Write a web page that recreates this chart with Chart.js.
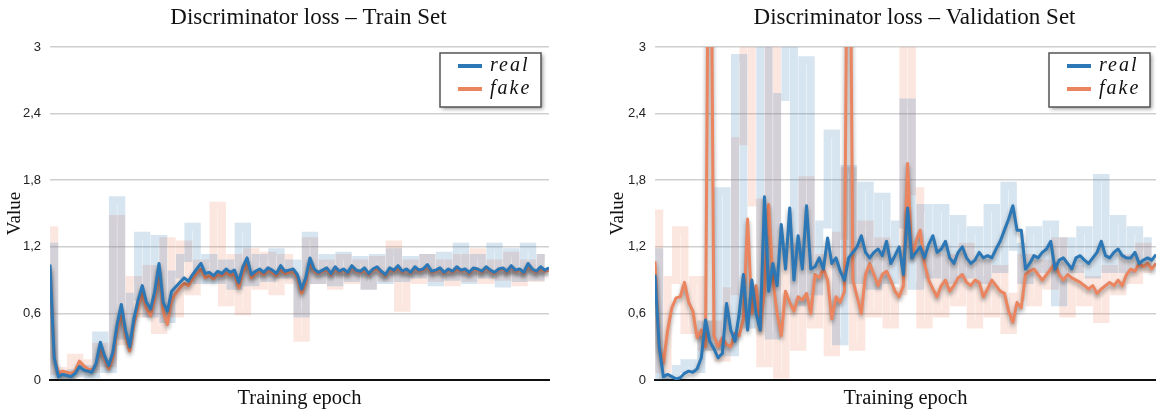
<!DOCTYPE html>
<html>
<head>
<meta charset="utf-8">
<script src="https://cdn.jsdelivr.net/npm/chart.js@4.4.1/dist/chart.umd.min.js"></script>
<style>
  html, body { margin: 0; padding: 0; background: #fff; }
  body { width: 1156px; height: 412px; position: relative; overflow: hidden; }
  canvas { position: absolute; top: 0; }
  #trainChart { left: 0; }
  #valChart { left: 578px; }
</style>
</head>
<body>
<canvas id="trainChart" width="578" height="412"></canvas>
<canvas id="valChart" width="578" height="412"></canvas>
<script>
// --- dados ---
const yTicks = [0, 0.6, 1.2, 1.8, 2.4, 3];
const seriesNames = ['real', 'fake'];

// Train set, curvas suavizadas (120 pontos)
const trainReal = [1.04,0.2,0.03,0.05,0.04,0.03,0.06,0.12,0.09,0.08,0.07,0.15,0.34,0.22,0.13,0.25,0.5,0.68,0.45,0.3,
  0.55,0.72,0.85,0.7,0.64,0.8,1.05,0.7,0.62,0.8,0.84,0.88,0.92,0.89,0.95,1.0,1.05,0.96,0.97,0.94,
  0.98,0.96,1.0,0.97,0.99,0.88,1.02,1.1,0.95,0.98,1.0,0.97,1.01,0.99,0.96,1.03,0.98,0.99,1.0,0.95,
  0.82,0.92,1.1,1.0,0.97,0.99,1.01,0.96,1.02,0.98,1.0,0.97,1.03,0.99,0.98,1.01,0.96,1.0,1.02,0.98,
  0.95,1.01,0.99,1.03,0.98,1.0,0.97,1.02,0.99,1.0,1.04,0.98,0.99,1.01,0.97,1.0,0.98,1.02,0.99,1.0,
  0.97,1.01,1.0,0.98,1.02,0.99,0.97,1.0,1.01,0.98,1.03,0.99,1.0,0.97,1.05,1.0,0.98,1.02,0.99,1.01];
const trainFake = [1.0,0.2,0.06,0.08,0.07,0.06,0.08,0.17,0.13,0.1,0.09,0.14,0.3,0.19,0.1,0.2,0.45,0.62,0.4,0.26,
  0.5,0.66,0.78,0.64,0.58,0.74,1.0,0.62,0.5,0.72,0.78,0.83,0.87,0.85,0.91,0.96,1.0,0.92,0.94,0.91,
  0.95,0.94,0.97,0.94,0.96,0.83,0.97,1.06,0.92,0.96,0.98,0.95,0.99,0.97,0.94,1.0,0.96,0.97,0.98,0.92,
  0.78,0.88,1.07,0.98,0.96,0.98,0.99,0.95,1.0,0.97,0.99,0.96,1.01,0.98,0.97,0.99,0.95,0.99,1.0,0.97,
  0.94,0.99,0.98,1.01,0.97,0.99,0.96,1.01,0.98,0.99,1.02,0.97,0.98,1.0,0.96,0.99,0.97,1.0,0.98,0.99,
  0.96,1.0,0.99,0.97,1.01,0.98,0.96,0.99,1.0,0.97,1.02,0.98,0.99,0.96,1.03,0.99,0.97,1.0,0.98,0.99];
// Train set, valores brutos (60 pontos, 1 a cada 2 épocas)
const trainRealRaw = [1.2,0.05,0.02,0.06,0.1,0.05,0.4,0.1,1.62,0.4,0.75,1.3,0.6,1.27,0.55,0.95,1.1,1.38,0.9,1.1,
  0.9,1.05,0.85,1.38,0.88,1.1,0.92,1.15,0.95,1.05,0.6,1.3,0.9,1.1,0.88,1.12,0.92,1.08,0.85,1.1,
  0.9,1.15,0.92,1.08,0.95,1.1,0.88,1.12,0.93,1.2,0.9,1.1,0.95,1.2,0.87,1.15,0.92,1.2,0.93,1.1];
const trainFakeRaw = [1.35,0.08,0.05,0.2,0.15,0.1,0.3,0.15,1.45,0.35,0.9,0.6,1.0,0.45,1.25,0.6,1.22,0.8,1.05,1.0,
  1.57,0.7,1.1,0.62,1.15,0.85,1.12,0.8,1.1,0.9,0.38,1.25,0.9,1.05,0.85,1.1,0.9,1.05,0.85,1.08,
  0.92,1.22,0.65,1.05,0.9,1.1,0.92,1.05,0.88,1.1,0.92,1.15,0.9,1.05,0.93,1.12,0.88,1.05,0.92,1.1];

// Validation set, curvas suavizadas (120 pontos); os picos acima de 3 saem cortados no gráfico
const valReal = [0.95,0.3,0.03,0.05,0.03,0.01,0.02,0.06,0.08,0.07,0.1,0.2,0.54,0.35,0.28,0.2,0.24,0.69,0.45,0.35,
  0.6,0.95,0.45,0.9,0.6,0.45,1.65,0.8,1.05,0.85,1.4,1.0,1.55,0.9,1.3,1.0,1.57,1.0,1.02,1.1,
  1.0,1.28,1.05,1.1,0.98,0.9,1.1,1.15,1.2,1.3,1.15,1.1,1.15,1.18,1.12,1.25,1.05,1.12,1.2,0.95,
  1.55,1.1,1.15,1.2,1.1,1.22,1.3,1.15,1.18,1.25,1.1,1.05,1.15,1.2,1.1,1.05,1.08,1.15,1.1,1.12,
  1.1,1.18,1.25,1.35,1.45,1.57,1.35,1.35,1.0,1.05,1.12,1.1,1.15,1.18,1.25,1.0,1.08,1.1,1.05,1.0,
  1.1,1.12,1.08,1.05,1.1,1.15,1.25,1.12,1.1,1.15,1.18,1.12,1.1,1.1,1.15,1.05,1.08,1.1,1.08,1.13];
const valFake = [1.07,0.3,0.15,0.45,0.65,0.74,0.75,0.88,0.7,0.62,0.38,0.45,0.3,6.0,0.4,0.3,0.38,0.32,0.3,0.42,
  0.4,0.55,1.45,0.6,0.85,0.45,0.8,1.58,0.9,0.6,0.4,0.8,0.7,0.62,0.75,0.72,0.78,0.6,0.95,0.92,
  1.0,0.9,0.55,0.75,0.7,0.8,6.0,0.9,0.75,0.6,0.95,1.05,0.95,0.85,0.95,0.98,0.9,0.8,0.75,0.85,
  1.95,1.1,1.25,1.35,1.05,0.9,0.82,0.75,0.85,0.9,0.8,0.85,0.92,0.95,0.88,0.85,0.9,0.88,0.75,0.82,
  0.9,0.85,0.8,0.78,0.62,0.52,0.7,0.65,0.95,0.98,1.0,0.95,0.9,0.95,1.0,1.05,0.95,0.9,0.95,0.92,
  0.9,0.88,0.85,0.82,0.85,0.78,0.82,0.85,0.88,0.85,0.9,0.85,0.95,1.0,0.98,1.05,1.02,1.05,1.0,1.05];
// Validation set, valores brutos (60 pontos)
const valRealRaw = [1.15,0.02,0.0,0.1,0.15,0.1,0.5,0.3,1.7,0.25,2.9,0.5,0.7,3.2,0.4,2.55,3.2,0.7,2.88,0.8,
  1.4,2.22,0.35,1.9,0.9,1.75,0.85,1.65,0.9,1.4,2.5,0.85,1.55,0.95,1.55,0.9,1.45,0.95,1.35,0.9,
  1.55,1.0,1.75,1.2,0.9,1.35,1.0,1.4,0.7,1.25,1.0,1.35,0.95,1.82,1.0,1.45,1.0,1.35,1.05,1.25];
const valFakeRaw = [1.5,0.1,0.9,1.35,0.45,0.9,0.3,0.5,0.2,0.8,2.15,3.2,1.6,0.15,3.2,0.05,1.2,0.3,1.8,0.5,
  1.1,0.25,1.3,1.88,0.3,1.4,0.6,1.25,0.5,0.8,3.2,1.7,0.5,1.15,0.6,1.1,0.7,1.2,0.5,1.05,
  0.6,1.0,0.45,0.75,1.1,0.7,1.05,0.85,1.25,0.6,1.0,0.7,0.9,0.55,1.0,0.8,1.1,0.9,1.2,1.0];

// --- cores ---
const blue = '#2c77b5';
const orange = '#eb8560';
const blueRaw = 'rgba(44, 119, 181, 0.19)';
const orangeRaw = 'rgba(232, 130, 90, 0.19)';
const gridColor = '#cfcfcf';
const serif = "'Liberation Serif', 'Times New Roman', serif";
const sans = "'Liberation Sans', Arial, sans-serif";

function toPoints(arr, step) {
  return arr.map((v, i) => ({ x: i * step, y: v }));
}

// sombra cinza por baixo das curvas suavizadas
const shadowPlugin = {
  id: 'lineShadow',
  beforeDatasetDraw(chart, args) {
    if (!args.meta._dataset.shadow) return;
    const ctx = chart.ctx;
    ctx.save();
    ctx.shadowColor = 'rgba(0, 0, 0, 0.4)';
    ctx.shadowBlur = 4;
    ctx.shadowOffsetY = 3;
  },
  afterDatasetDraw(chart, args) {
    if (args.meta._dataset.shadow) chart.ctx.restore();
  }
};

// título do painel (um pouco à direita do centro, como na figura)
const panelTitle = {
  id: 'panelTitle',
  afterDraw(chart, args, opts) {
    const ctx = chart.ctx;
    const a = chart.chartArea;
    ctx.save();
    ctx.font = '23px ' + serif;
    ctx.fillStyle = '#111';
    ctx.textAlign = 'center';
    ctx.textBaseline = 'middle';
    ctx.fillText(opts.text, (a.left + a.right) / 2 + opts.dx, 18);
    ctx.restore();
  }
};

// caixa de legenda com borda e sombra
const legendBox = {
  id: 'legendBox',
  afterDraw(chart, args, opts) {
    const ctx = chart.ctx;
    const a = chart.chartArea;
    const w = 101, h = 54;
    const bx = a.right - opts.right - w, by = 53;
    ctx.save();
    ctx.shadowColor = 'rgba(0, 0, 0, 0.4)';
    ctx.shadowBlur = 4;
    ctx.shadowOffsetX = 2;
    ctx.shadowOffsetY = 2;
    ctx.fillStyle = '#fff';
    ctx.fillRect(bx, by, w, h);
    ctx.restore();
    ctx.save();
    ctx.strokeStyle = '#555';
    ctx.lineWidth = 1.5;
    ctx.strokeRect(bx, by, w, h);
    const colors = [blue, orange];
    seriesNames.forEach((name, k) => {
      const yy = by + 13 + k * 23;
      ctx.strokeStyle = colors[k];
      ctx.lineWidth = 4;
      ctx.beginPath();
      ctx.moveTo(bx + 18, yy);
      ctx.lineTo(bx + 42, yy);
      ctx.stroke();
      ctx.fillStyle = '#111';
      ctx.font = 'italic 20px ' + serif;
      ctx.letterSpacing = '2px';
      ctx.textBaseline = 'middle';
      ctx.fillText(name, bx + 50, yy);
    });
    ctx.restore();
  }
};

function makeChart(id, title, real, fake, realRaw, fakeRaw, pad, yWidth, legendRight) {
  const ctx = document.getElementById(id).getContext('2d');
  return new Chart(ctx, {
    type: 'line',
    data: {
      datasets: [
        { label: seriesNames[0], data: toPoints(real, 1), borderColor: blue, borderWidth: 3, shadow: true },
        { label: seriesNames[1], data: toPoints(fake, 1), borderColor: orange, borderWidth: 3, shadow: true },
        { label: seriesNames[0] + ' raw', data: toPoints(realRaw, 2), borderColor: blueRaw, borderWidth: 8, stepped: 'middle', borderJoinStyle: 'miter' },
        { label: seriesNames[1] + ' raw', data: toPoints(fakeRaw, 2), borderColor: orangeRaw, borderWidth: 8, stepped: 'middle', borderJoinStyle: 'miter' }
      ]
    },
    options: {
      responsive: false,
      animation: false,
      events: [],
      elements: { point: { radius: 0 }, line: { tension: 0, borderJoinStyle: 'round' } },
      layout: { padding: { left: pad.left, right: pad.right, top: 47, bottom: 0 } },
      scales: {
        x: {
          type: 'linear', min: 0, max: real.length - 1,
          grid: { display: false },
          border: { color: '#111', width: 2 },
          ticks: { display: false },
          title: { display: true, text: 'Training epoch', color: '#111', font: { family: serif, size: 20.5 }, padding: { top: 0, bottom: 1 } },
          afterFit(s) { s.height = 32; }
        },
        y: {
          min: 0, max: 3,
          afterBuildTicks(s) { s.ticks = yTicks.map(v => ({ value: v })); },
          grid: { color: gridColor, lineWidth: 1.5, drawTicks: false },
          border: { display: false },
          ticks: {
            color: '#222', padding: 9, font: { family: sans, size: 13 },
            callback: v => String(Number(v.toFixed(1))).replace('.', ',')
          },
          title: { display: true, text: 'Value', color: '#111', font: { family: serif, size: 19 }, padding: 0 },
          afterFit(s) { s.width = yWidth; }
        }
      },
      plugins: {
        legend: { display: false },
        tooltip: { enabled: false },
        panelTitle: { text: title, dx: 9 },
        legendBox: { right: legendRight }
      }
    },
    plugins: [shadowPlugin, panelTitle, legendBox]
  });
}

makeChart('trainChart', 'Discriminator loss \u2013 Train Set', trainReal, trainFake, trainRealRaw, trainFakeRaw,
  { left: 4, right: 29 }, 46, 8);
makeChart('valChart', 'Discriminator loss \u2013 Validation Set', valReal, valFake, valRealRaw, valFakeRaw,
  { left: 29, right: 0 }, 48, 6);
</script>
</body>
</html>
